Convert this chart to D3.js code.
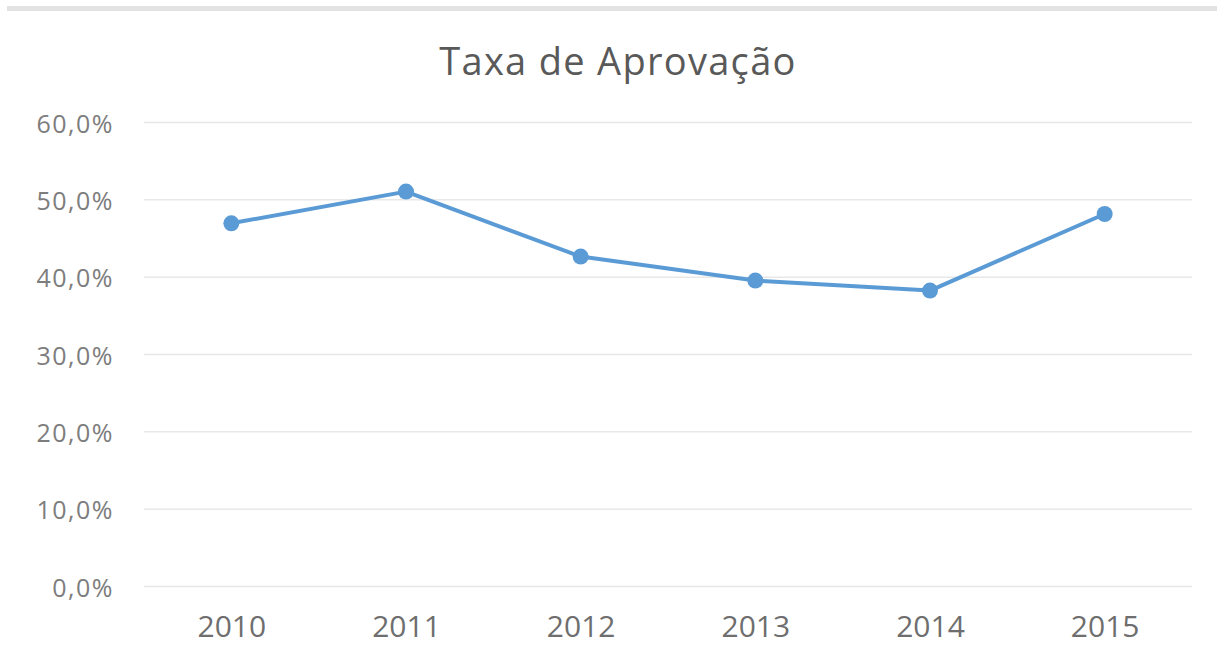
<!DOCTYPE html>
<html>
<head>
<meta charset="utf-8">
<script src="https://cdn.jsdelivr.net/npm/d3@7"></script>
<style>
  html, body { margin: 0; padding: 0; background: #fff; }
  svg { display: block; }
</style>
</head>
<body>
<svg id="chart" width="1217" height="655"></svg>
<script>
// Approval rate per year
const years = ["2010", "2011", "2012", "2013", "2014", "2015"];
const approvalRate = [0.469, 0.510, 0.426, 0.395, 0.382, 0.481];
const yTicks = [0, 0.1, 0.2, 0.3, 0.4, 0.5, 0.6];
const chartTitle = "Taxa de Aprovação";

const width = 1217, height = 655;
const margin = { top: 122, right: 25, bottom: 69, left: 144 };
const svg = d3.select("#chart");

// Thin grey band across the top
svg.append("rect")
  .attr("x", 7).attr("y", 6)
  .attr("width", width - 7).attr("height", 5)
  .attr("fill", "#e2e2e2");

const x = d3.scalePoint()
  .domain(years)
  .range([margin.left, width - margin.right])
  .padding(0.5);

const y = d3.scaleLinear()
  .domain([0, 0.6])
  .range([height - margin.bottom, margin.top]);

const fmt = v => d3.format(".1f")(v * 100).replace(".", ",") + "%";

// Horizontal gridlines with value labels
const yAxis = svg.append("g")
  .attr("transform", `translate(${margin.left},0)`)
  .call(d3.axisLeft(y).tickValues(yTicks).tickFormat(fmt)
    .tickSize(-(width - margin.left - margin.right)).tickPadding(30));
yAxis.select(".domain").remove();
yAxis.selectAll(".tick line").attr("stroke", "#e8e8e8").attr("stroke-width", 1.5);
yAxis.selectAll(".tick text")
  .attr("fill", "#7d7d7d")
  .attr("dy", "0.4em")
  .style("font-family", "'Open Sans', sans-serif")
  .style("font-size", "25px")
  .style("letter-spacing", "1.5px");

// Year labels
const xAxis = svg.append("g")
  .attr("transform", `translate(0,${height - margin.bottom})`)
  .call(d3.axisBottom(x).tickSize(0).tickPadding(30));
xAxis.select(".domain").remove();
xAxis.selectAll(".tick text")
  .attr("fill", "#6e6e6e")
  .style("font-family", "'Open Sans', sans-serif")
  .style("font-size", "30px");

// Series line and markers
const line = d3.line()
  .x((d, i) => x(years[i]))
  .y(d => y(d));

svg.append("path")
  .datum(approvalRate)
  .attr("d", line)
  .attr("fill", "none")
  .attr("stroke", "#5b9bd5")
  .attr("stroke-width", 4)
  .attr("stroke-linejoin", "round");

svg.selectAll("circle.pt")
  .data(approvalRate)
  .join("circle")
  .attr("class", "pt")
  .attr("cx", (d, i) => x(years[i]))
  .attr("cy", d => y(d))
  .attr("r", 8)
  .attr("fill", "#5b9bd5");

// Title
svg.append("text")
  .attr("x", 618).attr("y", 75)
  .attr("text-anchor", "middle")
  .attr("fill", "#595959")
  .style("font-family", "'Open Sans', sans-serif")
  .style("font-size", "38px")
  .style("letter-spacing", "1.3px")
  .text(chartTitle);
</script>
</body>
</html>
